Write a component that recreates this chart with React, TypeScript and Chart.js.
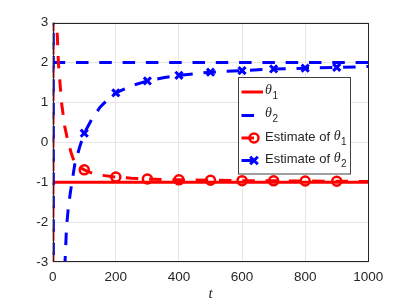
import React, { useEffect, useRef } from "react";
import { Chart, registerables } from "chart.js";

Chart.register(...registerables);

// ---- data ----
const xTicks = [0, 200, 400, 600, 800, 1000];
const yTicks = [-3, -2, -1, 0, 1, 2, 3];

const trueT = [0, 1000];
const theta1True = [-1, -1];
const theta2True = [2, 2];

const est1T = [0, 2, 13, 18, 28, 38, 49, 60, 70, 85, 100, 125, 150, 200, 250, 300, 400, 500, 600, 700, 800, 900, 1000];
const est1 = [-20, 20, 3, 2, 1, 0.4, 0, -0.3, -0.52, -0.62, -0.69, -0.77, -0.82, -0.87, -0.9, -0.92, -0.94, -0.95, -0.96, -0.965, -0.97, -0.975, -0.98];

const est2T = [0, 1, 3, 20, 39, 44, 50, 57, 70, 86, 100, 125, 150, 175, 200, 250, 300, 350, 400, 500, 600, 700, 800, 900, 1000];
const est2 = [0, 30, -30, -8, -3, -2.1, -1.6, -1.2, -0.55, -0.1, 0.23, 0.6, 0.88, 1.08, 1.24, 1.42, 1.54, 1.62, 1.68, 1.76, 1.8, 1.84, 1.86, 1.88, 1.9];

const markerT = [100, 200, 300, 400, 500, 600, 700, 800, 900];

const RED = "#ff0000";
const BLUE = "#0000ff";
const DASH = [12.5, 10.8];
const AXIS = "#262626";

const toPts = (ts: number[], vs: number[]) => ts.map((t, i) => ({ x: t, y: vs[i] }));

const overlay = {
  id: "overlay",
  afterDraw(chart: any) {
    const ctx = chart.ctx;
    const a = chart.chartArea;
    ctx.save();
    // frame
    ctx.strokeStyle = AXIS;
    ctx.lineWidth = 1;
    ctx.strokeRect(Math.round(a.left) + 0.5, Math.round(a.top) + 0.5, Math.round(a.right - a.left) - 1, Math.round(a.bottom - a.top) - 1);

    // x title
    ctx.fillStyle = AXIS;
    ctx.font = 'italic 15px "Liberation Serif"';
    ctx.textAlign = "center";
    ctx.textBaseline = "middle";
    ctx.fillText("t", (a.left + a.right) / 2, 294);

    // legend
    const bx = 238.5, by = 77.5, bw = 112, bh = 96.5;
    ctx.fillStyle = "#ffffff";
    ctx.fillRect(bx, by, bw, bh);
    ctx.strokeStyle = "#404040";
    ctx.lineWidth = 1;
    ctx.strokeRect(bx, by, bw, bh);

    const rows = [92, 115.5, 138, 160.5];
    const x0 = 241.5, x1 = 263, mx = 254;
    const drawLabel = (y: number, prefix: string, sub: string) => {
      ctx.fillStyle = AXIS;
      ctx.textAlign = "left";
      ctx.textBaseline = "middle";
      let x = 265;
      if (prefix) {
        ctx.font = '13px "Liberation Sans"';
        ctx.fillText(prefix, x, y - 1);
        x += ctx.measureText(prefix).width;
      }
      ctx.font = 'italic 14px "Liberation Serif"';
      ctx.fillText("θ", x, y - 2);
      x += ctx.measureText("θ").width + 0.5;
      ctx.font = '10px "Liberation Sans"';
      ctx.fillText(sub, x, y + 4);
    };
    // row 1
    ctx.lineWidth = 3;
    ctx.strokeStyle = RED;
    ctx.setLineDash([]);
    ctx.beginPath(); ctx.moveTo(x0, rows[0]); ctx.lineTo(x1, rows[0]); ctx.stroke();
    drawLabel(rows[0], "", "1");
    // row 2
    ctx.strokeStyle = BLUE;
    ctx.setLineDash(DASH);
    ctx.beginPath(); ctx.moveTo(x0, rows[1]); ctx.lineTo(x1, rows[1]); ctx.stroke();
    drawLabel(rows[1], "", "2");
    // row 3
    ctx.strokeStyle = RED;
    ctx.beginPath(); ctx.moveTo(x0, rows[2]); ctx.lineTo(x1, rows[2]); ctx.stroke();
    ctx.setLineDash([]);
    ctx.lineWidth = 2.5;
    ctx.beginPath(); ctx.arc(mx, rows[2], 4.5, 0, Math.PI * 2); ctx.stroke();
    drawLabel(rows[2], "Estimate of ", "1");
    // row 4
    ctx.lineWidth = 3;
    ctx.strokeStyle = BLUE;
    ctx.setLineDash(DASH);
    ctx.beginPath(); ctx.moveTo(x0, rows[3]); ctx.lineTo(x1, rows[3]); ctx.stroke();
    ctx.setLineDash([]);
    const r = 3.8;
    ctx.beginPath();
    ctx.moveTo(mx - r, rows[3] - r); ctx.lineTo(mx + r, rows[3] + r);
    ctx.moveTo(mx - r, rows[3] + r); ctx.lineTo(mx + r, rows[3] - r);
    ctx.stroke();
    drawLabel(rows[3], "Estimate of ", "2");
    ctx.restore();
  },
};

export default function App() {
  const ref = useRef<HTMLCanvasElement>(null);
  useEffect(() => {
    if (!ref.current) return;
    const radii = (ts: number[]) => ts.map((t) => (markerT.includes(t) ? 4.5 : 0));
    const crossRadii = (ts: number[]) => ts.map((t) => (markerT.includes(t) ? 5 : 0));
    const chart = new Chart(ref.current, {
      type: "line",
      data: {
        datasets: [
          {
            label: "Estimate of θ2",
            data: toPts(est2T, est2),
            borderColor: BLUE,
            borderWidth: 3,
            borderDash: DASH,
            pointRadius: crossRadii(est2T),
            pointStyle: "crossRot",
            pointBorderColor: BLUE,
            pointBackgroundColor: "rgba(0,0,0,0)",
            pointBorderWidth: 3,
            tension: 0,
          },
          {
            label: "Estimate of θ1",
            data: toPts(est1T, est1),
            borderColor: RED,
            borderWidth: 3,
            borderDash: DASH,
            pointRadius: radii(est1T),
            pointStyle: "circle",
            pointBorderColor: RED,
            pointBackgroundColor: "rgba(0,0,0,0)",
            pointBorderWidth: 2.5,
            tension: 0,
          },
          {
            label: "θ2",
            data: toPts(trueT, theta2True),
            borderColor: BLUE,
            borderWidth: 3,
            borderDash: DASH,
            pointRadius: 0,
            tension: 0,
          },
          {
            label: "θ1",
            data: toPts(trueT, theta1True),
            borderColor: RED,
            borderWidth: 3,
            pointRadius: 0,
            tension: 0,
          },
        ],
      } as any,
      options: {
        responsive: false,
        animation: false,
        devicePixelRatio: 1,
        events: [],
        layout: { padding: { left: 0, right: 38.7, top: 22.7, bottom: 0 } },
        plugins: { legend: { display: false }, tooltip: { enabled: false } },
        scales: {
          x: {
            type: "linear",
            min: 0,
            max: 1000,
            afterBuildTicks: (s: any) => { s.ticks = xTicks.map((v) => ({ value: v })); },
            afterFit: (s: any) => { s.height = 43; },
            ticks: { color: AXIS, font: { family: "Liberation Sans", size: 13.5 }, padding: 7, maxRotation: 0, callback: (v: any) => String(v) },
            grid: { color: "#e6e6e6", drawTicks: false, lineWidth: 1 },
            border: { display: false },
          },
          y: {
            type: "linear",
            min: -3,
            max: 3,
            afterBuildTicks: (s: any) => { s.ticks = yTicks.map((v) => ({ value: v })); },
            afterFit: (s: any) => { s.width = 52.7; },
            ticks: { color: AXIS, font: { family: "Liberation Sans", size: 13.5 }, padding: 4.5, callback: (v: any) => String(v) },
            grid: { color: "#e6e6e6", drawTicks: false, lineWidth: 1 },
            border: { display: false },
          },
        },
      } as any,
      plugins: [overlay],
    });
    return () => chart.destroy();
  }, []);
  return (
    <div style={{ position: "fixed", left: 0, top: 0, width: 407, height: 305, background: "#fff" }}>
      <canvas ref={ref} width={407} height={305} style={{ width: 407, height: 305, display: "block" }} />
    </div>
  );
}
